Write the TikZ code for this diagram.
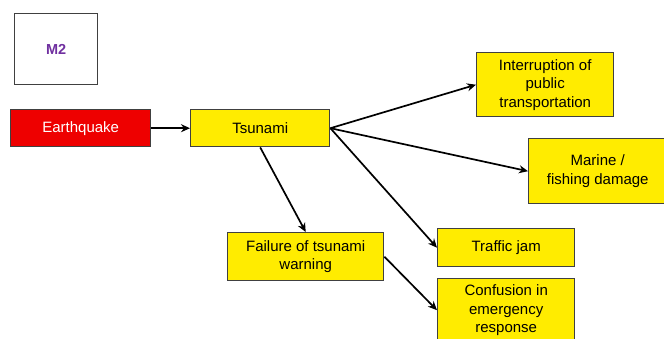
\documentclass[tikz,border=0pt]{standalone}
\usepackage{fontspec}
\setmainfont{Liberation Sans}
\usetikzlibrary{arrows.meta}
\definecolor{boxyellow}{RGB}{255,236,0}
\definecolor{boxred}{RGB}{238,0,0}
\definecolor{boxborder}{RGB}{64,64,64}
\definecolor{mpurple}{RGB}{112,48,160}
\tikzset{
  box/.style={draw=boxborder, line width=1.4pt, fill=boxyellow, anchor=north west,
    inner sep=0pt, align=center, font=\fontsize{15}{18.5}\selectfont},
  redbox/.style={box, fill=boxred, text=white},
  conn/.style={draw=black, line width=1.7pt, -{Stealth[length=9pt,width=8pt]}}
}
\begin{document}
\begin{tikzpicture}[x=1pt,y=-1pt]
\useasboundingbox (0,0) rectangle (664,339);
\clip (0,0) rectangle (664,339);
\fill[white] (0,0) rectangle (664,339);
\node[box, fill=white, minimum width=83pt, minimum height=71pt, text=mpurple,
  font=\fontsize{14.5}{17}\selectfont\bfseries] (m2) at (14,13) {M2};
\node[redbox, minimum width=140pt, minimum height=37pt] (eq) at (10,109) {Earthquake};
\node[box, minimum width=139pt, minimum height=37pt] (ts) at (190,109) {Tsunami};
\node[box, minimum width=137pt, minimum height=64pt] (ip) at (476,52) {Interruption of\\public\\transportation};
\node[box, minimum width=138pt, minimum height=65pt] (md) at (528,138) {Marine /\\fishing damage};
\node[box, minimum width=156pt, minimum height=48pt] (fw) at (227,232) {Failure of tsunami\\warning};
\node[box, minimum width=137pt, minimum height=38pt] (tj) at (437,228) {Traffic jam};
\node[box, minimum width=137pt, minimum height=63pt] (ce) at (437,278) {Confusion in\\emergency\\response};
\draw[conn] (eq.east) -- (ts.west);
\draw[conn] (ts.east) -- (ip.west);
\draw[conn] (ts.east) -- (md.west);
\draw[conn] (ts.east) -- (tj.west);
\draw[conn] (ts.south) -- (fw.north);
\draw[conn] (fw.east) -- (ce.west);
\end{tikzpicture}
\end{document}
